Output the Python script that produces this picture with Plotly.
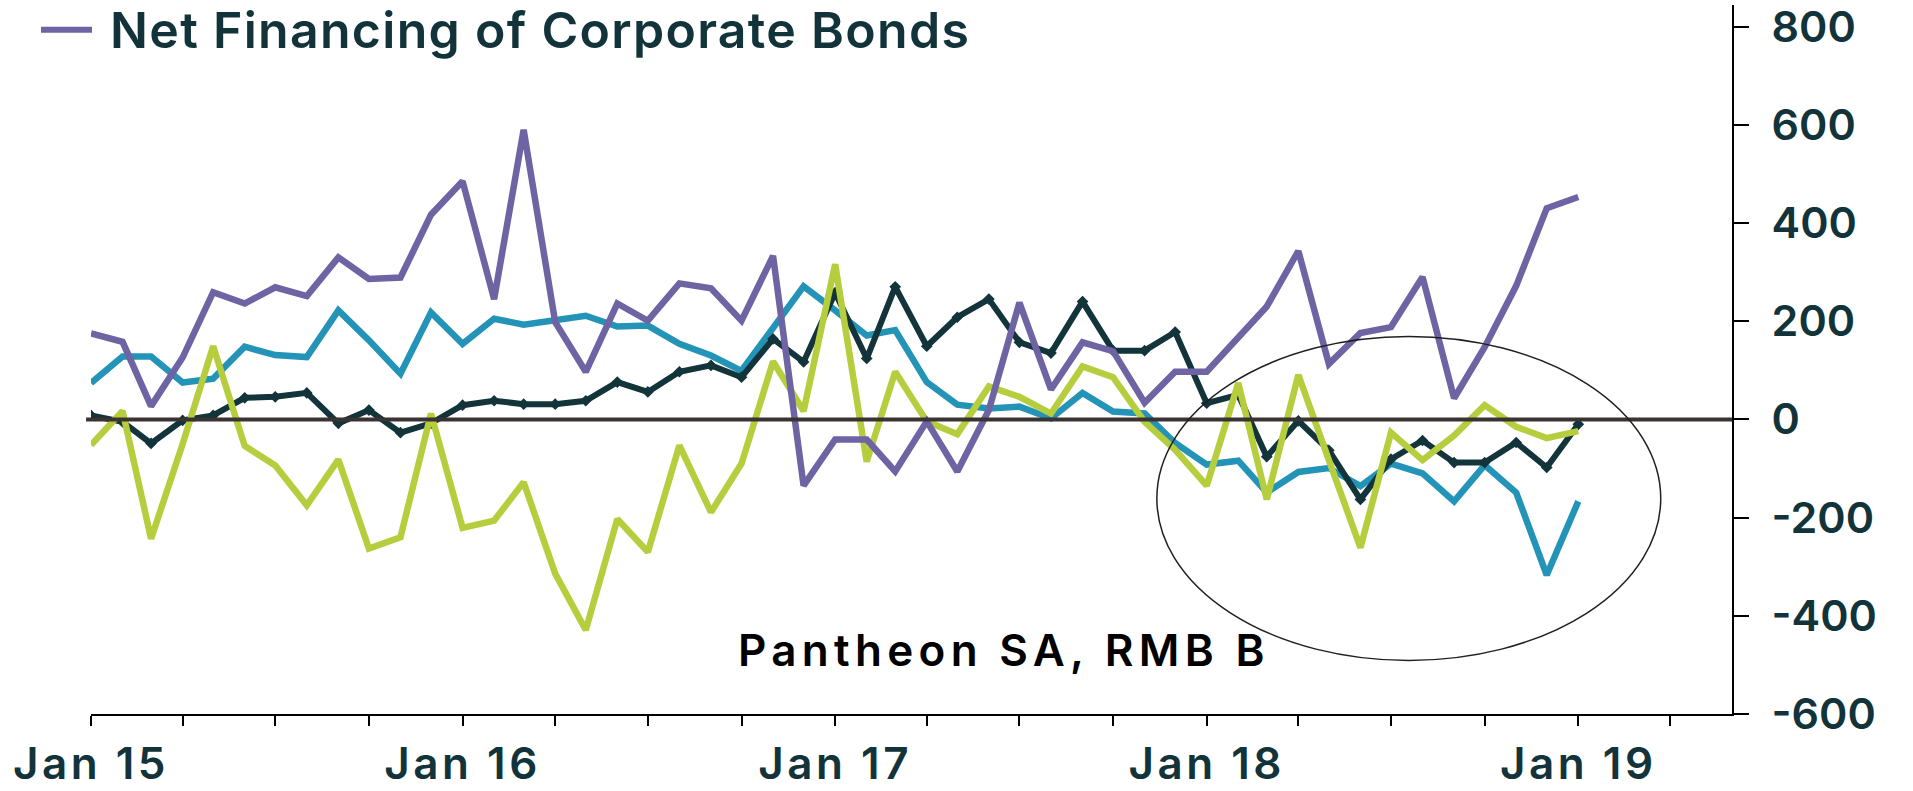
import plotly.graph_objects as go
import pandas as pd

months = pd.date_range("2015-01-01", "2019-01-01", freq="MS").strftime("%Y-%m-%d").tolist()

net_corp_bonds = [175, 158, 27, 126, 259, 236, 269, 251, 330, 286, 289, 417, 485, 245, 590, 198, 97, 236,
                  201, 277, 267, 201, 333, -135, -41, -41, -106, -4, -106, 19, 238, 61, 157, 139, 34, 97,
                  97, 168, 230, 343, 113, 176, 188, 290, 43, 147, 272, 430, 453]
teal_series = [74, 128, 128, 75, 83, 148, 131, 127, 222, 161, 93, 218, 154, 205, 193, 201, 211, 189,
               191, 154, 130, 99, 186, 271, 222, 171, 182, 76, 30, 22, 26, 2, 54, 16, 12, -48,
               -92, -84, -149, -107, -99, -136, -90, -110, -167, -93, -149, -317, -167]
dark_series = [8, -5, -49, -2, 8, 44, 46, 54, -8, 19, -27, -8, 29, 38, 31, 31, 38, 76,
               56, 97, 110, 86, 164, 117, 258, 124, 270, 149, 208, 245, 157, 135, 240, 140, 140, 178,
               33, 50, -76, -3, -63, -163, -81, -43, -88, -88, -47, -98, -10]
lime_series = [-52, 17, -243, -50, 149, -54, -94, -175, -82, -263, -240, 12, -221, -206, -128, -314, -429, -203,
               -270, -53, -189, -90, 118, 17, 316, -86, 97, -4, -30, 67, 46, 12, 108, 86, -5, -62,
               -135, 74, -163, 91, -83, -261, -27, -83, -33, 29, -15, -38, -24]

x_tick_dates = pd.date_range("2015-01-01", "2019-04-01", freq="QS").strftime("%Y-%m-%d").tolist()
x_tick_labels = ["Jan 15", "", "", "", "Jan 16", "", "", "", "Jan 17", "", "", "",
                 "Jan 18", "", "", "", "Jan 19", ""]
y_ticks = [-600, -400, -200, 0, 200, 400, 600, 800]
legend_label = "Net Financing of Corporate Bonds"
source_label = "Pantheon SA, RMB B"

C_PURPLE = "#6E63A3"
C_TEAL = "#2394B8"
C_LIME = "#B6CD3D"
C_DARK = "#12343A"
C_TEXT = "#12333A"
FONT = "Inter"


def spaced(s, ls):
    if not s:
        return s
    return '<span style="letter-spacing:%spx">%s</span>' % (ls, s)


fig = go.Figure()
fig.add_trace(go.Scatter(x=months, y=teal_series, mode="lines",
                         line=dict(color=C_TEAL, width=6.5), showlegend=False))
fig.add_trace(go.Scatter(x=months, y=dark_series, mode="lines+markers",
                         line=dict(color=C_DARK, width=6),
                         marker=dict(symbol="diamond", size=9, color=C_DARK), showlegend=False))
fig.add_trace(go.Scatter(x=months, y=lime_series, mode="lines",
                         line=dict(color=C_LIME, width=6.5), showlegend=False))
fig.add_trace(go.Scatter(x=months, y=net_corp_bonds, mode="lines", name=legend_label,
                         line=dict(color=C_PURPLE, width=6.5), showlegend=False))

W, H = 1913, 791
ML, MR, MT, MB = 91, 181, 0, 77
PW, PH = W - ML - MR, H - MT - MB


def px(xp):
    return (xp - ML) / PW


def py(yp):
    return (H - MB - yp) / PH


fig.update_layout(
    width=W, height=H,
    margin=dict(l=ML, r=MR, t=MT, b=MB, pad=0),
    paper_bgcolor="white", plot_bgcolor="white",
    font=dict(family=FONT, color=C_TEXT),
    xaxis=dict(type="date", range=["2015-01-01", "2019-06-01"],
               showgrid=False, zeroline=False,
               showline=True, linecolor="black", linewidth=2,
               ticks="outside", ticklen=10, tickwidth=2, tickcolor="black",
               tickmode="array", tickvals=x_tick_dates,
               ticktext=[spaced(t, 3.5) for t in x_tick_labels],
               tickfont=dict(size=44, color=C_TEXT, family=FONT, weight=600)),
    yaxis=dict(side="right", range=[-600, 844], tickmode="array", tickvals=y_ticks,
               ticktext=[str(v) for v in y_ticks],
               showgrid=False, zeroline=False,
               showline=True, linecolor="black", linewidth=2,
               ticks="outside", ticklen=15, tickwidth=2, tickcolor="black",
               tickfont=dict(size=43, color=C_TEXT, family=FONT, weight=600),
               ticklabelstandoff=14, ticklabeloverflow="allow"),
    shapes=[
        dict(type="line", xref="paper", yref="y", x0=-0.003, x1=1, y0=0, y1=0,
             line=dict(color="#3A3233", width=4), layer="above"),
        dict(type="circle", xref="x", yref="y", x0="2017-11-13", x1="2019-03-23", y0=-491, y1=169,
             line=dict(color="#231F20", width=1.5), layer="above"),
        dict(type="line", xref="paper", yref="paper", x0=px(41), x1=px(92), y0=py(25), y1=py(25),
             line=dict(color=C_PURPLE, width=6)),
    ],
    annotations=[
        dict(text=spaced(legend_label, 1.3), xref="paper", yref="paper", x=px(108), y=py(25),
             xanchor="left", yanchor="middle", showarrow=False,
             font=dict(size=50, color=C_TEXT, family=FONT, weight=600)),
        dict(text=spaced(source_label, 5.3), xref="paper", yref="paper", x=px(736), y=py(650),
             xanchor="left", yanchor="middle", showarrow=False,
             font=dict(size=44, color="black", family=FONT, weight=600)),
    ],
)

fig.write_html("out.html")
